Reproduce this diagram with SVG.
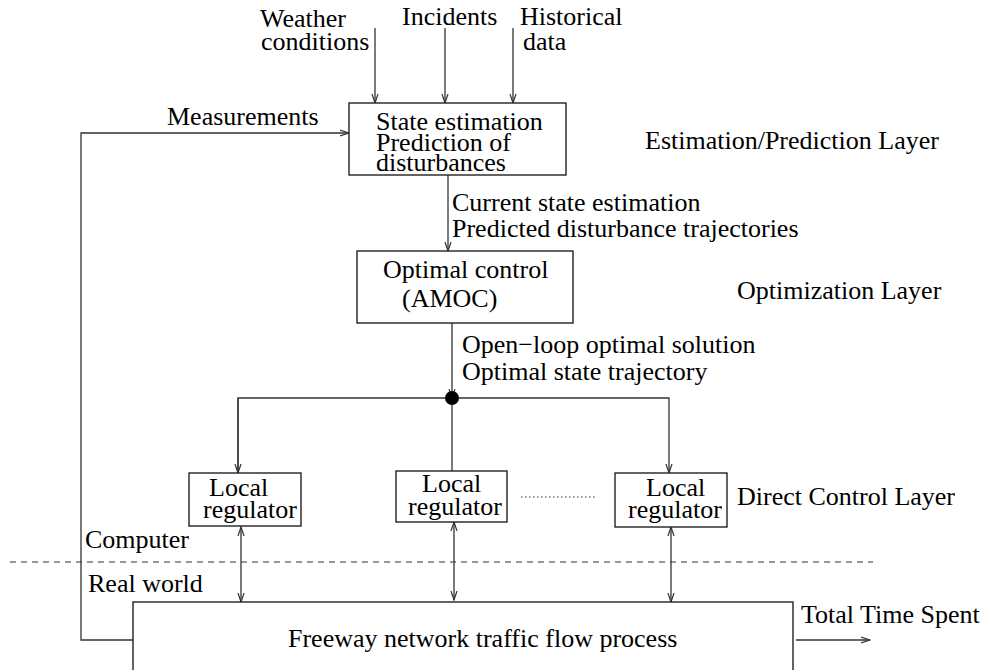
<svg xmlns="http://www.w3.org/2000/svg" width="985" height="670" viewBox="0 0 985 670">
<style>
text{font-family:'Liberation Serif','DejaVu Serif',serif;font-size:26px;fill:#000}
.box{fill:#fff;stroke:#222;stroke-width:1.4}
.ln{fill:none;stroke:#333;stroke-width:1.3}
</style>
<defs>
<marker id="ah" markerWidth="10" markerHeight="8" refX="9" refY="4" orient="auto" markerUnits="userSpaceOnUse">
<path d="M0,1 L9,4 L0,7" fill="none" stroke="#333" stroke-width="1.2"/>
</marker>
<marker id="as" markerWidth="10" markerHeight="8" refX="1" refY="4" orient="auto" markerUnits="userSpaceOnUse">
<path d="M10,1 L1,4 L10,7" fill="none" stroke="#333" stroke-width="1.2"/>
</marker>
</defs>
<rect width="985" height="670" fill="#fff"/>
<g id="connectors">
<line class="ln" x1="375" y1="28" x2="375" y2="103" marker-end="url(#ah)"/>
<line class="ln" x1="445" y1="28" x2="445" y2="103" marker-end="url(#ah)"/>
<line class="ln" x1="513" y1="28" x2="513" y2="103" marker-end="url(#ah)"/>
<polyline class="ln" points="133,640 81,640 81,133 349,133" marker-end="url(#ah)"/>
<line class="ln" x1="448" y1="175" x2="448" y2="251" marker-end="url(#ah)"/>
<line class="ln" x1="452" y1="323" x2="452" y2="398" marker-end="url(#ah)"/>
<polyline class="ln" points="238,473 238,398 669,398 669,473" marker-end="url(#ah)"/>
<line class="ln" x1="238" y1="398" x2="238" y2="473" marker-end="url(#ah)"/>
<line class="ln" x1="452" y1="398" x2="452" y2="471"/>
<circle cx="452" cy="398" r="7" fill="#000"/>
<line x1="521" y1="497" x2="597" y2="497" stroke="#333" stroke-width="1.2" stroke-dasharray="1.5,2.5"/>
<line class="ln" x1="241" y1="527" x2="241" y2="602" marker-start="url(#as)" marker-end="url(#ah)"/>
<line class="ln" x1="454" y1="522" x2="454" y2="600" marker-start="url(#as)" marker-end="url(#ah)"/>
<line class="ln" x1="671" y1="527" x2="671" y2="602" marker-start="url(#as)" marker-end="url(#ah)"/>
<line x1="10" y1="562" x2="873" y2="562" stroke="#333" stroke-width="1.2" stroke-dasharray="6,5"/>
<line class="ln" x1="796" y1="640" x2="870" y2="640" marker-end="url(#ah)"/>
</g>
<g id="labels">
<text x="260" y="27">Weather</text>
<text x="261" y="50">conditions</text>
<text x="402" y="25">Incidents</text>
<text x="520" y="25">Historical</text>
<text x="523" y="50">data</text>
<text x="167" y="125">Measurements</text>
<text x="645" y="149">Estimation/Prediction Layer</text>
<text x="452" y="211">Current state estimation</text>
<text x="452" y="237">Predicted disturbance trajectories</text>
<text x="737" y="299">Optimization Layer</text>
<text x="462" y="353">Open−loop optimal solution</text>
<text x="462" y="380">Optimal state trajectory</text>
<text x="737" y="505">Direct Control Layer</text>
<text x="85" y="548">Computer</text>
<text x="88" y="592">Real world</text>
<text x="801" y="623">Total Time Spent</text>
</g>
<g id="state-estimation">
<rect class="box" x="349" y="103" width="217" height="72"/>
<text x="376" y="130">State estimation</text>
<text x="376" y="151">Prediction of</text>
<text x="376" y="171">disturbances</text>
</g>
<g id="optimal-control">
<rect class="box" x="357" y="251" width="216" height="72"/>
<text x="383" y="278">Optimal control</text>
<text x="402" y="307">(AMOC)</text>
</g>
<g id="regulator-1">
<rect class="box" x="189" y="473" width="112" height="53"/>
<text x="209" y="496">Local</text>
<text x="203" y="518">regulator</text>
</g>
<g id="regulator-2">
<rect class="box" x="396" y="471" width="111" height="51"/>
<text x="422" y="492">Local</text>
<text x="408" y="515">regulator</text>
</g>
<g id="regulator-3">
<rect class="box" x="615" y="473" width="112" height="54"/>
<text x="646" y="496">Local</text>
<text x="628" y="518">regulator</text>
</g>
<g id="freeway">
<rect class="box" x="133" y="602" width="660" height="70"/>
<text x="288" y="647">Freeway network traffic flow process</text>
</g>
</svg>
